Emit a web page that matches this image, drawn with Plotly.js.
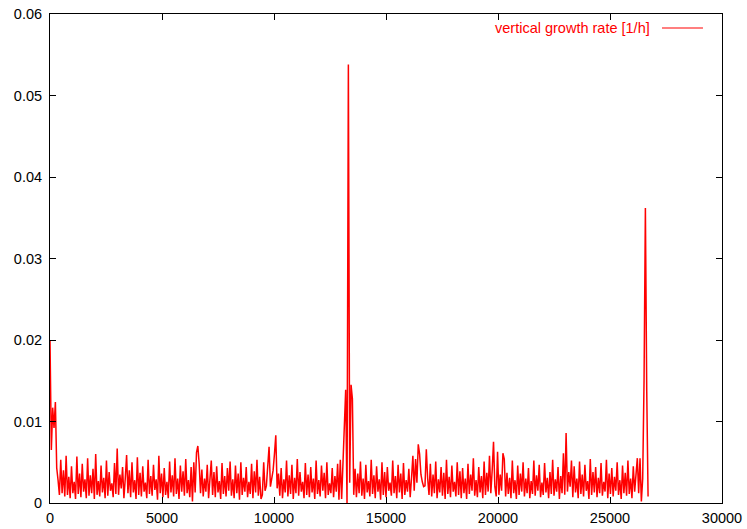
<!DOCTYPE html>
<html>
<head>
<meta charset="utf-8">
<script src="https://cdn.plot.ly/plotly-3.0.1.min.js"></script>
<style>html,body{margin:0;padding:0;background:#fff}#chart{width:747px;height:529px}</style>
</head>
<body>
<div id="chart"></div>
<script>
// sampling of the series (time step in hours)
const timeStart = 0;
const timeStep = 60;
const seriesName = "vertical growth rate [1/h]";
const xTickVals = [0, 5000, 10000, 15000, 20000, 25000, 30000];
const yTickVals = [0, 0.01, 0.02, 0.03, 0.04, 0.05, 0.06];
const growthRate = [
.0200,.0065,.0117,.0092,.0124,.0043,.0028,.0010,.0053,.0012,
.0040,.0008,.0058,.0010,.0032,.0006,.0045,.0012,.0026,.0005,
.0057,.0011,.0036,.0007,.0048,.0014,.0029,.0006,.0055,.0009,
.0034,.0012,.0042,.0005,.0060,.0010,.0027,.0008,.0046,.0013,
.0031,.0006,.0052,.0009,.0038,.0015,.0024,.0007,.0049,.0011,
.0067,.0010,.0035,.0018,.0044,.0006,.0030,.0059,.0012,.0040,
.0007,.0050,.0013,.0028,.0005,.0056,.0010,.0037,.0008,.0045,
.0014,.0025,.0006,.0053,.0011,.0033,.0009,.0047,.0016,.0029,
.0004,.0058,.0012,.0036,.0007,.0043,.0010,.0026,.0006,.0051,
.0013,.0034,.0008,.0055,.0011,.0030,.0005,.0046,.0014,.0039,
.0009,.0054,.0012,.0028,.0007,.0044,.0002,.0050,.0013,.0062,
.0070,.0048,.0012,.0041,.0008,.0030,.0014,.0047,.0006,.0035,
.0052,.0010,.0038,.0007,.0045,.0013,.0027,.0005,.0049,.0011,
.0033,.0008,.0043,.0015,.0051,.0009,.0029,.0006,.0046,.0012,
.0036,.0004,.0050,.0010,.0031,.0014,.0044,.0007,.0026,.0011,
.0048,.0006,.0039,.0013,.0053,.0009,.0032,.0005,.0010,.0050,
.0015,.0021,.0045,.0069,.0020,.0028,.0040,.0060,.0083,.0018,
.0036,.0009,.0043,.0006,.0029,.0013,.0052,.0008,.0034,.0011,
.0047,.0005,.0031,.0012,.0054,.0009,.0038,.0014,.0026,.0006,
.0049,.0010,.0035,.0007,.0044,.0013,.0030,.0005,.0052,.0011,
.0028,.0008,.0046,.0015,.0037,.0006,.0050,.0010,.0024,.0012,
.0043,.0007,.0033,.0014,.0048,.0004,.0053,.0005,.0050,.0075,
.0139,.0000,.0538,.0025,.0145,.0128,.0010,.0042,.0007,.0036,
.0012,.0051,.0009,.0030,.0005,.0047,.0013,.0027,.0008,.0053,
.0011,.0034,.0006,.0045,.0014,.0029,.0004,.0050,.0010,.0038,
.0007,.0044,.0015,.0025,.0009,.0052,.0012,.0033,.0006,.0047,
.0013,.0036,.0005,.0049,.0010,.0028,.0014,.0042,.0007,.0031,
.0058,.0015,.0054,.0025,.0072,.0060,.0035,.0026,.0020,.0021,
.0066,.0030,.0010,.0048,.0008,.0035,.0012,.0051,.0006,.0029,
.0013,.0044,.0009,.0037,.0005,.0053,.0011,.0032,.0007,.0046,
.0014,.0026,.0008,.0050,.0010,.0039,.0006,.0043,.0012,.0030,
.0005,.0048,.0011,.0035,.0015,.0055,.0009,.0028,.0007,.0044,
.0013,.0033,.0006,.0051,.0010,.0037,.0014,.0058,.0012,.0040,
.0075,.0020,.0008,.0063,.0010,.0035,.0015,.0061,.0054,.0008,
.0037,.0011,.0031,.0006,.0052,.0012,.0028,.0005,.0046,.0010,
.0036,.0014,.0050,.0008,.0030,.0012,.0043,.0006,.0027,.0011,
.0052,.0009,.0034,.0015,.0047,.0007,.0025,.0010,.0049,.0013,
.0031,.0006,.0038,.0011,.0053,.0009,.0029,.0014,.0044,.0005,
.0033,.0012,.0061,.0010,.0086,.0014,.0038,.0020,.0052,.0007,
.0045,.0013,.0030,.0006,.0051,.0011,.0035,.0008,.0047,.0015,
.0027,.0005,.0054,.0010,.0038,.0013,.0044,.0007,.0031,.0012,
.0049,.0009,.0026,.0014,.0053,.0006,.0036,.0011,.0043,.0008,
.0032,.0015,.0050,.0010,.0028,.0005,.0046,.0012,.0037,.0009,
.0052,.0011,.0030,.0006,.0045,.0014,.0038,.0055,.0012,.0055,
.0002,.0030,.0150,.0362,.0137,.0008
];

const font = {family: "Liberation Sans, Arial, Helvetica, sans-serif", size: 14.5, color: "#000"};

const trace = {
  type: "scatter",
  mode: "lines",
  name: seriesName,
  x0: timeStart,
  dx: timeStep,
  y: growthRate,
  line: {color: "#ff0000", width: 1.5},
  showlegend: false,
  hoverinfo: "x+y"
};

const axisCommon = {
  showline: true, linecolor: "#000", linewidth: 1, mirror: "ticks",
  ticks: "inside", ticklen: 6, tickwidth: 1, tickcolor: "#000",
  showgrid: false, zeroline: false, tickfont: font, fixedrange: true
};

const layout = {
  width: 747, height: 529,
  margin: {l: 50, r: 25, t: 14, b: 26, pad: 0},
  paper_bgcolor: "#fff", plot_bgcolor: "#fff",
  font: font,
  xaxis: Object.assign({}, axisCommon, {
    range: [0, 30000], tickmode: "array", tickvals: xTickVals, tickformat: "d",
    ticklabelstandoff: 2
  }),
  yaxis: Object.assign({}, axisCommon, {
    range: [0, 0.06], tickmode: "array", tickvals: yTickVals, tickformat: ".2~f",
    ticklabelstandoff: 4
  }),
  annotations: [{
    xref: "paper", yref: "paper", x: 0.8958, y: 0.9714,
    xanchor: "right", yanchor: "middle", showarrow: false,
    text: seriesName, font: {family: font.family, size: 14.5, color: "#ff0000"}
  }],
  shapes: [{
    type: "line", xref: "paper", yref: "paper",
    x0: 0.9107, x1: 0.9717, y0: 0.9714, y1: 0.9714,
    line: {color: "#ff0000", width: 1.2}
  }]
};

Plotly.newPlot("chart", [trace], layout, {displayModeBar: false, staticPlot: true});
</script>
</body>
</html>
